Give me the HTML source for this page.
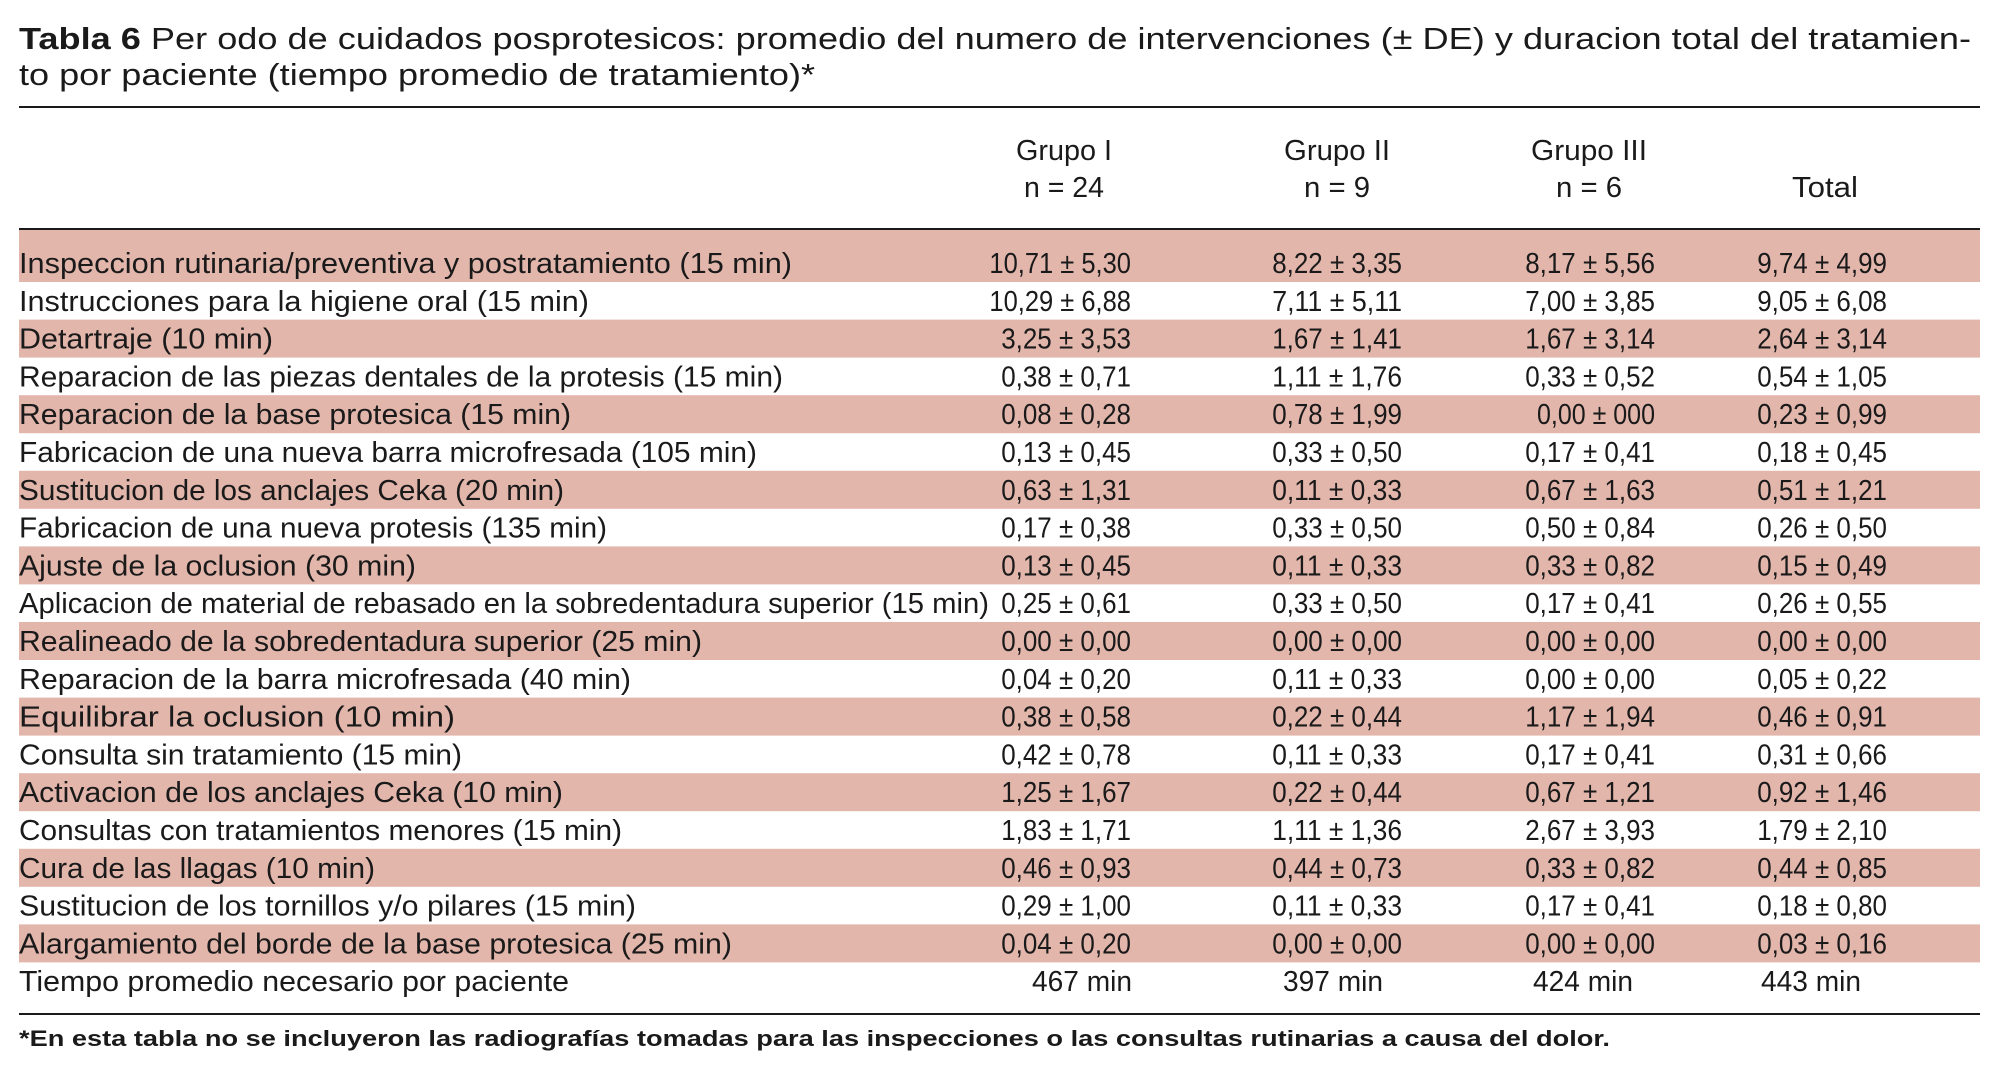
<!DOCTYPE html>
<html><head><meta charset="utf-8"><style>
html,body{margin:0;padding:0;background:#fff;}
svg{display:block;}
text{font-family:"Liberation Sans",sans-serif;fill:#1a1a1a;}
</style></head><body>
<svg id="t" width="2000" height="1070" viewBox="0 0 2000 1070" xmlns="http://www.w3.org/2000/svg">
<text x="19" y="49" font-size="31" textLength="1952" lengthAdjust="spacingAndGlyphs"><tspan font-weight="bold">Tabla 6</tspan>  Per odo de cuidados posprotesicos: promedio del numero de intervenciones (± DE) y duracion total del tratamien-</text>
<text x="19" y="85" font-size="31" textLength="796" lengthAdjust="spacingAndGlyphs">to por paciente (tiempo promedio de tratamiento)*</text>
<rect x="19" y="106" width="1961" height="2" fill="#1a1a1a"/>
<g font-size="29" text-anchor="middle">
<text x="1064" y="160" textLength="96" lengthAdjust="spacingAndGlyphs">Grupo I</text>
<text x="1064" y="197" textLength="80" lengthAdjust="spacingAndGlyphs">n = 24</text>
<text x="1337" y="160" textLength="106" lengthAdjust="spacingAndGlyphs">Grupo II</text>
<text x="1337" y="197" textLength="66" lengthAdjust="spacingAndGlyphs">n = 9</text>
<text x="1589" y="160" textLength="116" lengthAdjust="spacingAndGlyphs">Grupo III</text>
<text x="1589" y="197" textLength="66" lengthAdjust="spacingAndGlyphs">n = 6</text>
<text x="1825" y="197" textLength="66" lengthAdjust="spacingAndGlyphs">Total</text>
</g>
<g id="bands"></g>
<g id="rows"></g>
<rect x="19" y="228" width="1961" height="2" fill="#1a1a1a"/>
<rect x="19" y="1013" width="1961" height="2" fill="#1a1a1a"/>
<text x="19" y="1046" font-size="22" font-weight="bold" textLength="1591" lengthAdjust="spacingAndGlyphs">*En esta tabla no se incluyeron las radiografías tomadas para las inspecciones o las consultas rutinarias a causa del dolor.</text>
</svg>
<script>
const labels=["Inspeccion rutinaria/preventiva y postratamiento  (15 min)","Instrucciones para la higiene oral  (15 min)","Detartraje  (10 min)","Reparacion de las piezas dentales de la protesis  (15 min)","Reparacion de la base protesica  (15 min)","Fabricacion de una nueva barra microfresada (105 min)","Sustitucion de los anclajes Ceka (20 min)","Fabricacion de una nueva protesis (135 min)","Ajuste de la oclusion  (30 min)","Aplicacion de material de rebasado en la sobredentadura superior  (15 min)","Realineado de la sobredentadura superior  (25 min)","Reparacion de la barra microfresada  (40 min)","Equilibrar la oclusion  (10 min)","Consulta sin tratamiento  (15 min)","Activacion de los anclajes Ceka  (10 min)","Consultas con tratamientos menores (15 min)","Cura de las llagas  (10 min)","Sustitucion de los tornillos y/o pilares  (15 min)","Alargamiento del borde de la base protesica  (25 min)","Tiempo promedio necesario por paciente"];
const labelWidths=[773,570,254,764,552,738,545,588,397,970,683,612,436,443,544,603,356,617,713,550];
const grupo1=["10,71 ± 5,30","10,29 ± 6,88","3,25 ± 3,53","0,38 ± 0,71","0,08 ± 0,28","0,13 ± 0,45","0,63 ± 1,31","0,17 ± 0,38","0,13 ± 0,45","0,25 ± 0,61","0,00 ± 0,00","0,04 ± 0,20","0,38 ± 0,58","0,42 ± 0,78","1,25 ± 1,67","1,83 ± 1,71","0,46 ± 0,93","0,29 ± 1,00","0,04 ± 0,20"];
const grupo2=["8,22 ± 3,35","7,11 ± 5,11","1,67 ± 1,41","1,11 ± 1,76","0,78 ± 1,99","0,33 ± 0,50","0,11 ± 0,33","0,33 ± 0,50","0,11 ± 0,33","0,33 ± 0,50","0,00 ± 0,00","0,11 ± 0,33","0,22 ± 0,44","0,11 ± 0,33","0,22 ± 0,44","1,11 ± 1,36","0,44 ± 0,73","0,11 ± 0,33","0,00 ± 0,00"];
const grupo3=["8,17 ± 5,56","7,00 ± 3,85","1,67 ± 3,14","0,33 ± 0,52","0,00 ± 000","0,17 ± 0,41","0,67 ± 1,63","0,50 ± 0,84","0,33 ± 0,82","0,17 ± 0,41","0,00 ± 0,00","0,00 ± 0,00","1,17 ± 1,94","0,17 ± 0,41","0,67 ± 1,21","2,67 ± 3,93","0,33 ± 0,82","0,17 ± 0,41","0,00 ± 0,00"];
const total=["9,74 ± 4,99","9,05 ± 6,08","2,64 ± 3,14","0,54 ± 1,05","0,23 ± 0,99","0,18 ± 0,45","0,51 ± 1,21","0,26 ± 0,50","0,15 ± 0,49","0,26 ± 0,55","0,00 ± 0,00","0,05 ± 0,22","0,46 ± 0,91","0,31 ± 0,66","0,92 ± 1,46","1,79 ± 2,10","0,44 ± 0,85","0,18 ± 0,80","0,03 ± 0,16"];
const tiempos=["467 min","397 min","424 min","443 min"];
const NS="http://www.w3.org/2000/svg";
const bands=document.getElementById('bands'),rows=document.getElementById('rows');
const rowY=i=>263+i*37.8;
const colRight=[1131,1402,1655,1887];
const colMid=[1082,1333,1583,1811];
function mk(tag,attrs,txt){const e=document.createElementNS(NS,tag);for(const k in attrs)e.setAttribute(k,attrs[k]);if(txt!==undefined)e.textContent=txt;return e;}
for(let i=0;i<labels.length;i++){
  const c=rowY(i);
  if(i%2===0&&i<19){
    const top=i===0?230:c-19;
    const r=mk('rect',{x:19,y:top,width:1961,height:c+19-top,fill:'#e3b6ac'});
    
    
    bands.appendChild(r);
  }
  const t=mk('text',{x:19,y:c+10,'font-size':29,textLength:labelWidths[i],lengthAdjust:'spacingAndGlyphs'},labels[i]);
  
  
  rows.appendChild(t);
  if(i<19){
    [grupo1,grupo2,grupo3,total].forEach((arr,j)=>{
      const v=mk('text',{x:colRight[j],y:c+10,'font-size':29,'text-anchor':'end',textLength:arr[i].length*11.8,lengthAdjust:'spacingAndGlyphs'},arr[i]);
      
      
      rows.appendChild(v);
    });
  } else {
    tiempos.forEach((s,j)=>{
      const v=mk('text',{x:colMid[j],y:c+10,'font-size':29,'text-anchor':'middle',textLength:100,lengthAdjust:'spacingAndGlyphs'},s);
      
      
      rows.appendChild(v);
    });
  }
}
</script>
</body></html>
